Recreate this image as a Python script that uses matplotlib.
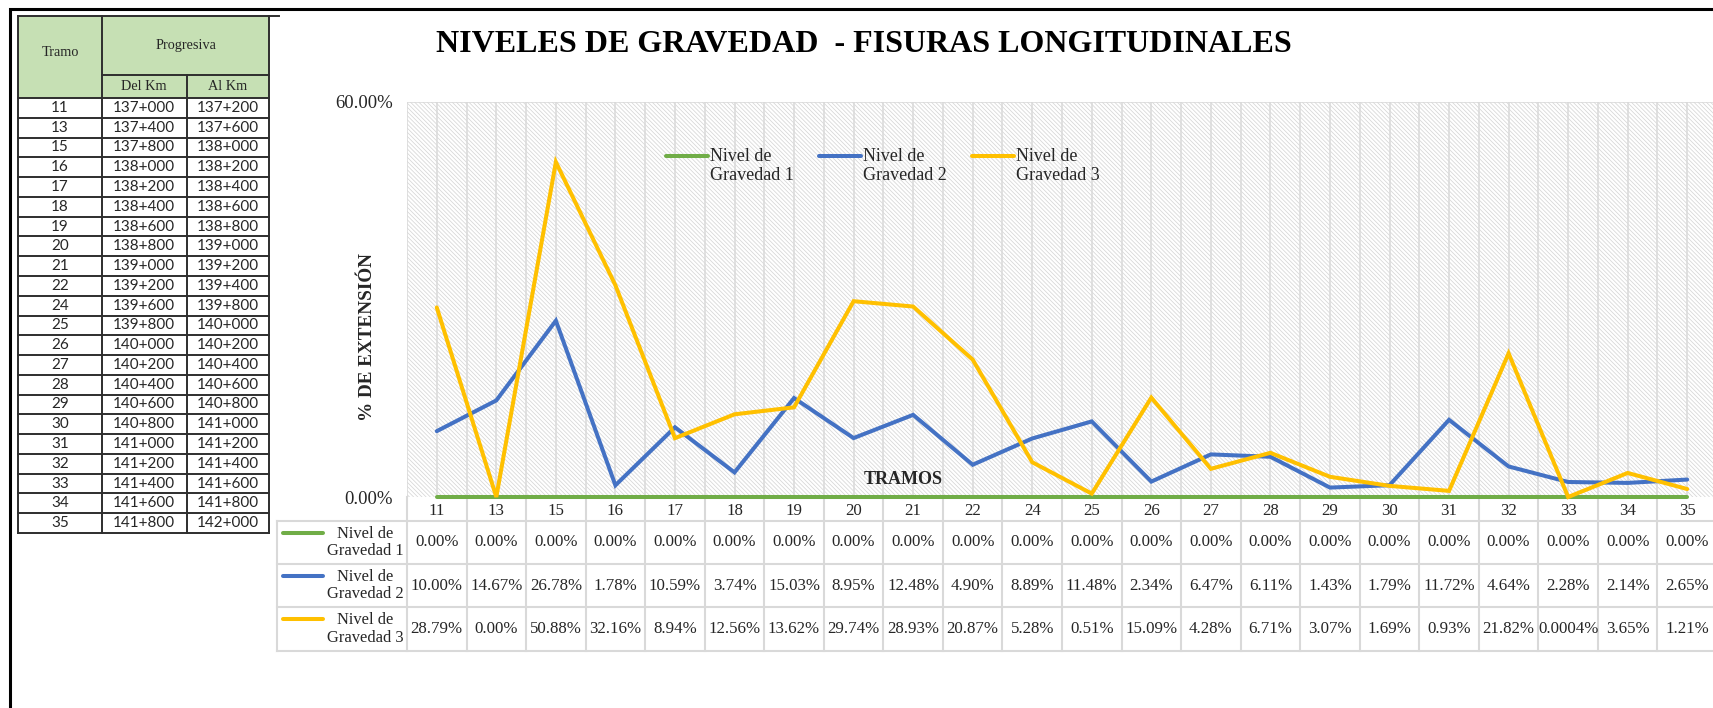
import matplotlib
matplotlib.use("Agg")
import matplotlib.pyplot as plt
from matplotlib.lines import Line2D
from matplotlib.patches import Rectangle
from matplotlib.transforms import blended_transform_factory
import numpy as np

# ---------------- data ----------------
tramos = ['11', '13', '15', '16', '17', '18', '19', '20', '21', '22', '24',
          '25', '26', '27', '28', '29', '30', '31', '32', '33', '34', '35']
del_km = ['137+000', '137+400', '137+800', '138+000', '138+200', '138+400',
          '138+600', '138+800', '139+000', '139+200', '139+600', '139+800',
          '140+000', '140+200', '140+400', '140+600', '140+800', '141+000',
          '141+200', '141+400', '141+600', '141+800']
al_km = ['137+200', '137+600', '138+000', '138+200', '138+400', '138+600',
         '138+800', '139+000', '139+200', '139+400', '139+800', '140+000',
         '140+200', '140+400', '140+600', '140+800', '141+000', '141+200',
         '141+400', '141+600', '141+800', '142+000']

nivel1 = [0.00, 0.00, 0.00, 0.00, 0.00, 0.00, 0.00, 0.00, 0.00, 0.00, 0.00,
          0.00, 0.00, 0.00, 0.00, 0.00, 0.00, 0.00, 0.00, 0.00, 0.00, 0.00]
nivel2 = [10.00, 14.67, 26.78, 1.78, 10.59, 3.74, 15.03, 8.95, 12.48, 4.90, 8.89,
          11.48, 2.34, 6.47, 6.11, 1.43, 1.79, 11.72, 4.64, 2.28, 2.14, 2.65]
nivel3 = [28.79, 0.00, 50.88, 32.16, 8.94, 12.56, 13.62, 29.74, 28.93, 20.87, 5.28,
          0.51, 15.09, 4.28, 6.71, 3.07, 1.69, 0.93, 21.82, 0.0004, 3.65, 1.21]

series_names = ['Nivel de\nGravedad 1', 'Nivel de\nGravedad 2', 'Nivel de\nGravedad 3']
series_colors = ['#70AD47', '#4472C4', '#FFC000']
y_ticks = [0, 60]

title = 'NIVELES DE GRAVEDAD  - FISURAS LONGITUDINALES'
y_label = '% DE EXTENSIÓN'
x_label = 'TRAMOS'

# ---------------- layout helpers ----------------
W, H, DPI = 1713, 708, 100
SERIF = 'Liberation Serif'
SANS = 'Lato'


def fx(x):
    return x / W


def fy(y):
    return 1 - y / H


def fmt(v):
    if 0 < v < 0.005:
        return f'{v:.4f}%'
    return f'{v:.2f}%'


fig = plt.figure(figsize=(W / DPI, H / DPI), dpi=DPI)
fig.patch.set_facecolor('white')

# ---------------- main chart ----------------
PL, PR, PT, PB = 407, 1717, 102, 497
ax = fig.add_axes([fx(PL), fy(PB), (PR - PL) / W, (PB - PT) / H])
n = len(tramos)
x = np.arange(n)
ax.set_xlim(-0.5, n - 0.5)
ax.set_ylim(y_ticks[0], y_ticks[-1])
ax.patch.set_visible(False)
for s in ax.spines.values():
    s.set_visible(False)

plt.rcParams['hatch.linewidth'] = 0.55
bg = Rectangle((0, 0), 1, 1, transform=ax.transAxes, facecolor='white',
               edgecolor='#d6d6d6', hatch='\\' * 8, lw=0, zorder=0)
ax.add_patch(bg)
ax.vlines(np.arange(-0.5, n, 0.5), y_ticks[0], y_ticks[-1], color='#d9d9d9',
          lw=1.1, zorder=1)
ax.axhline(y_ticks[-1], color='#d9d9d9', lw=1.1, zorder=1)

for vals, col in zip([nivel1, nivel2, nivel3], series_colors):
    ax.plot(x, vals, color=col, lw=2.9, solid_capstyle='round',
            solid_joinstyle='miter', clip_on=False, zorder=3)

ax.set_yticks(y_ticks)
ax.set_yticklabels([fmt(v) for v in y_ticks], fontsize=13.5, family=SERIF,
                   color='#262626')
ax.set_xticks(x)
ax.set_xticklabels(tramos, fontsize=12.2, family=SERIF, color='#262626')
ax.tick_params(axis='both', length=0)
ax.tick_params(axis='y', pad=10)
ax.tick_params(axis='x', pad=4)

# titles
fig.text(fx(864), fy(44), title, ha='center', va='center', fontsize=23,
         fontweight='bold', family=SERIF, color='black')
fig.text(fx(367), fy(337), y_label, ha='center', va='center', rotation=90,
         fontsize=13.8, fontweight='bold', family=SERIF, color='#262626')
fig.text(fx(903), fy(480), x_label, ha='center', va='center',
         fontsize=13, fontweight='bold', family=SERIF, color='#262626')

# legend (inside plot)
leg_x = [666, 819, 972]
for lx, name, col in zip(leg_x, series_names, series_colors):
    fig.add_artist(Line2D([fx(lx), fx(lx + 42)], [fy(156), fy(156)],
                          color=col, lw=2.9, solid_capstyle='round'))
    fig.text(fx(lx + 44), fy(148), name, ha='left', va='top', fontsize=13,
             family=SERIF, color='#262626', linespacing=1.15)

# ---------------- data table below chart ----------------
trans = blended_transform_factory(ax.transData, fig.transFigure)
grid_c = '#d9d9d9'
row_b = [521, 564, 607, 651]
TL = 277
for yb in row_b:
    fig.add_artist(Line2D([fx(TL), 1.0], [fy(yb), fy(yb)], color=grid_c, lw=1.5))
for k in range(n + 1):
    ax.add_artist(Line2D([k - 0.5, k - 0.5], [fy(PB), fy(row_b[-1])],
                         transform=trans, color=grid_c, lw=1.5, clip_on=False))
fig.add_artist(Line2D([fx(TL), fx(TL)], [fy(row_b[0]), fy(row_b[-1])],
                      color=grid_c, lw=1.5))

for r, (vals, name, col) in enumerate(zip([nivel1, nivel2, nivel3],
                                          series_names, series_colors)):
    top, bot = row_b[r], row_b[r + 1]
    mid = (top + bot) / 2
    fig.add_artist(Line2D([fx(283), fx(323)], [fy(top + 12), fy(top + 12)],
                          color=col, lw=2.9, solid_capstyle='round'))
    fig.text(fx(365), fy(mid), name, ha='center', va='center', fontsize=11.9,
             family=SERIF, color='#262626', linespacing=1.1)
    for i, v in enumerate(vals):
        ax.text(i, fy(mid), fmt(v), transform=trans, ha='center', va='center',
                fontsize=12.2, family=SERIF, color='#262626', clip_on=False)

# ---------------- left Excel table ----------------
cx = [18, 102, 187, 269]
h_top, h_mid, h_bot = 16, 75, 98
row_h = (533 - h_bot) / len(tramos)
line_c = '#2e2e2e'
fig.add_artist(Rectangle((fx(cx[0]), fy(h_bot)), fx(cx[3]) - fx(cx[0]),
                         fy(h_top) - fy(h_bot), facecolor='#C6E0B4',
                         edgecolor='none', transform=fig.transFigure))
t_bot = h_bot + row_h * len(tramos)


def hline(y, x0, x1, lw=1.4):
    fig.add_artist(Line2D([fx(x0), fx(x1)], [fy(y), fy(y)], color=line_c, lw=lw))


def vline(x0, y0, y1, lw=1.4):
    fig.add_artist(Line2D([fx(x0), fx(x0)], [fy(y0), fy(y1)], color=line_c, lw=lw))


hline(h_top, cx[0], cx[3] + 10)
hline(h_mid, cx[1], cx[3])
hline(h_bot, cx[0], cx[3])
for i in range(1, len(tramos) + 1):
    hline(h_bot + i * row_h, cx[0], cx[3])
vline(cx[0], h_top, t_bot)
vline(cx[1], h_top, t_bot)
vline(cx[2], h_mid, t_bot)
vline(cx[3], h_top, t_bot)

fig.text(fx(60), fy(52), 'Tramo', ha='center', va='center', fontsize=10.3,
         family=SERIF, color='#262626')
fig.text(fx(186), fy(46), 'Progresiva', ha='center', va='center', fontsize=10.3,
         family=SERIF, color='#262626')
fig.text(fx(144), fy(87), 'Del Km', ha='center', va='center', fontsize=10.3,
         family=SERIF, color='#262626')
fig.text(fx(228), fy(87), 'Al Km', ha='center', va='center', fontsize=10.3,
         family=SERIF, color='#262626')
for i, (t, d, a) in enumerate(zip(tramos, del_km, al_km)):
    yc = h_bot + (i + 0.5) * row_h
    fig.text(fx(60), fy(yc), t, ha='center', va='center', fontsize=11,
             family=SANS, color='#262626')
    fig.text(fx(144), fy(yc), d, ha='center', va='center', fontsize=11,
             family=SANS, color='#262626')
    fig.text(fx(228), fy(yc), a, ha='center', va='center', fontsize=11,
             family=SANS, color='#262626')

# ---------------- outer frame ----------------
fig.add_artist(Line2D([fx(10), fx(10), 1.0], [0.0, fy(9), fy(9)],
                      color='black', lw=2.2, solid_joinstyle='miter'))

fig.savefig('out.png', dpi=DPI, facecolor='white')
